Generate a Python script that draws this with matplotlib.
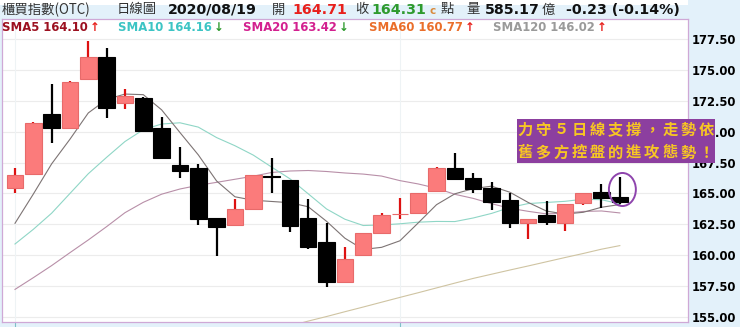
import matplotlib
matplotlib.use('Agg')
import matplotlib.pyplot as plt
from matplotlib.patches import Rectangle, Ellipse
import numpy as np

# 每日K線 (開, 高, 低, 收)
opens = [165.44, 166.55, 171.42, 170.28, 174.26, 176.04, 172.31, 172.76, 170.33, 167.31,
         167.04, 162.98, 162.44, 163.71, 166.38, 166.09, 162.98, 161.04, 157.84, 160.01,
         161.82, 163.31, 163.39, 165.22, 167.09, 166.23, 165.42, 164.47, 162.58, 163.25,
         162.58, 164.20, 165.14, 164.71]
highs = [167.06, 170.80, 173.87, 174.14, 177.36, 176.77, 173.45, 172.80, 171.17, 168.74,
         167.36, 163.00, 164.55, 166.52, 167.90, 166.10, 164.52, 162.58, 160.63, 161.80,
         163.39, 164.66, 165.05, 167.17, 168.25, 166.68, 165.95, 165.06, 162.95, 164.39,
         164.15, 165.06, 165.76, 166.36]
lows = [165.03, 166.55, 169.07, 170.28, 174.26, 171.09, 171.87, 169.96, 167.82, 166.29,
        162.44, 159.95, 162.42, 163.71, 165.01, 161.85, 160.47, 157.43, 157.71, 160.01,
        161.82, 162.92, 163.39, 165.22, 166.10, 165.06, 163.66, 162.17, 161.30, 162.44,
        161.98, 164.09, 163.79, 164.12]
closes = [166.49, 170.74, 170.33, 174.06, 176.04, 171.95, 172.90, 170.09, 167.90, 166.84,
          162.90, 162.30, 163.71, 166.50, 166.35, 162.38, 160.68, 157.79, 159.66, 161.77,
          163.25, 163.31, 165.01, 167.09, 166.17, 165.34, 164.33, 162.58, 162.93, 162.66,
          164.14, 165.06, 164.60, 164.31]

# 均線
sma5 = [162.58, 164.95, 167.40, 169.40, 171.53, 172.62, 173.06, 173.01, 171.78, 169.94,
        168.13, 166.01, 164.73, 164.45, 164.35, 164.25, 163.92, 162.74, 161.37, 160.46,
        160.63, 161.16, 162.61, 164.09, 164.97, 165.39, 165.59, 165.10, 164.27, 163.57,
        163.33, 163.47, 163.88, 164.10]
sma10 = [160.90, 162.09, 163.40, 165.00, 166.60, 167.93, 169.21, 170.17, 170.63, 170.73,
         170.38, 169.53, 168.87, 168.11, 167.14, 166.19, 164.97, 163.74, 162.91, 162.40,
         162.44, 162.54, 162.67, 162.73, 162.72, 163.01, 163.38, 163.86, 164.18, 164.27,
         164.36, 164.53, 164.49, 164.16]
sma20 = [157.22, 158.17, 159.15, 160.20, 161.23, 162.31, 163.44, 164.28, 164.94, 165.36,
         165.66, 165.90, 166.15, 166.40, 166.70, 166.82, 166.86, 166.78, 166.66, 166.57,
         166.41, 166.04, 165.77, 165.42, 164.93, 164.60, 164.17, 163.80, 163.55, 163.34,
         163.40, 163.54, 163.58, 163.42]
sma60 = [None] * 14 + [153.80, 154.25, 154.65, 155.02, 155.41, 155.79, 156.18, 156.57,
                       156.95, 157.34, 157.73, 158.11, 158.45, 158.79, 159.12, 159.46,
                       159.80, 160.13, 160.48, 160.77]

yticks = [155.0, 157.5, 160.0, 162.5, 165.0, 167.5, 170.0, 172.5, 175.0, 177.5]

W, H = 740, 327


def fx(px):
    return px / W


def fy(py):
    return 1 - py / H


fig = plt.figure(figsize=(W / 100, H / 100), dpi=100)
fig.patch.set_facecolor('white')

# 右邊與下方的淺藍底
fig.add_artist(Rectangle((fx(688), 0), 1 - fx(688), 1, transform=fig.transFigure,
                         facecolor='#e3f1fa', edgecolor='none', zorder=0))
fig.add_artist(Rectangle((0, 0), 1, 1 - fy(321.7), transform=fig.transFigure,
                         facecolor='#e3f1fa', edgecolor='none', zorder=0))

ax = fig.add_axes([fx(2), fy(321.7), fx(688) - fx(2), fy(18.7) - fy(321.7)])
ax.set_facecolor('white')
ax.set_xlim(-0.709, 36.72)
ax.set_ylim(154.60, 179.17)

x = np.arange(len(closes))

# 格線
for yt in yticks:
    ax.axhline(yt, color='#ececec', lw=0.8, zorder=0)
for xv in [0, 21]:
    ax.axvline(xv, color='#eef3f5', lw=0.8, zorder=0)

# 均線
xs60 = [i for i in x if sma60[i] is not None]
ax.plot(xs60, [sma60[i] for i in xs60], color='#cfc4a2', lw=0.8, zorder=1)
ax.plot(x, sma20, color='#b88fa8', lw=0.8, zorder=1)
ax.plot(x, sma10, color='#8fd6c6', lw=0.8, zorder=1)
ax.plot(x, sma5, color='#7d7474', lw=0.8, zorder=1)

# K線
for i in x:
    o, h, l, c = opens[i], highs[i], lows[i], closes[i]
    up = c >= o
    wick = '#dd1111' if up else 'black'
    face = '#fb7b7b' if up else 'black'
    edge = '#e86a6a' if up else 'black'
    ax.vlines(i, l, h, color=wick, lw=1.6, zorder=2)
    ax.bar(i, max(abs(c - o), 0.01), bottom=min(o, c), width=0.9,
           color=face, edgecolor=edge, lw=0.8, zorder=3)

# 圈出最後一根
ax.add_patch(Ellipse((33.14, 165.32), 1.47, 2.68, fill=False,
                     edgecolor='#8e44ad', lw=1.4, zorder=4))

# 軸
ax.yaxis.tick_right()
ax.set_yticks(yticks)
ax.set_yticklabels(['%.2f' % v for v in yticks], fontsize=8.4,
                   fontweight='bold', color='black')
ax.tick_params(axis='y', length=0, pad=3)
ax.set_xticks([0, 21])
ax.set_xticklabels([])
ax.tick_params(axis='x', length=5, direction='out', color='#7fc0c8', width=0.8)
for s in ax.spines.values():
    s.set_color('#cfa8d6')
    s.set_linewidth(0.9)

# 標題列
cjk = ['Noto Sans CJK TC', 'DejaVu Sans']
y1 = fy(9.5)
fig.text(fx(2), y1, '櫃買指數(OTC)', family=cjk, fontsize=9.6, color='#333333', va='center')
fig.text(fx(117), y1, '日線圖', family=cjk, fontsize=9.6, color='#333333', va='center')
fig.text(fx(168), y1, '2020/08/19', fontsize=10.2, fontweight='bold', color='#111111', va='center')
fig.text(fx(272), y1, '開', family=cjk, fontsize=9.6, color='#333333', va='center')
fig.text(fx(292), y1, '164.71', fontsize=10.2, fontweight='bold', color='#e8201c', va='center')
fig.text(fx(355), y1, '收', family=cjk, fontsize=9.6, color='#333333', va='center')
fig.text(fx(371), y1, '164.31', fontsize=10.2, fontweight='bold', color='#2e9a2e', va='center')
fig.text(fx(429), fy(11), 'c', fontsize=7.5, fontweight='bold', color='#d98a3d', va='center')
fig.text(fx(441), y1, '點', family=cjk, fontsize=9.6, color='#333333', va='center')
fig.text(fx(466), y1, '量', family=cjk, fontsize=9.6, color='#333333', va='center')
fig.text(fx(485), y1, '585.17', fontsize=10.2, fontweight='bold', color='#111111', va='center')
fig.text(fx(542), y1, '億', family=cjk, fontsize=9.6, color='#333333', va='center')
fig.text(fx(566), y1, '-0.23 (-0.14%)', fontsize=10.2, fontweight='bold', color='#111111', va='center')

# 均線圖例
y2 = fy(27.5)
legend = [
    (2, 'SMA5 164.10', '#9c1020', '↑', '#e8201c'),
    (118, 'SMA10 164.16', '#3cc4c4', '↓', '#2e9a2e'),
    (243, 'SMA20 163.42', '#d3208f', '↓', '#2e9a2e'),
    (369, 'SMA60 160.77', '#ea6e2a', '↑', '#e8201c'),
    (493, 'SMA120 146.02', '#9a9a9a', '↑', '#e8201c'),
]
for px, label, col, arrow, acol in legend:
    t = fig.text(fx(px), y2, label, fontsize=8.4, fontweight='bold', color=col, va='center')
    fig.canvas.draw()
    bb = t.get_window_extent()
    fig.text(bb.x1 / W + fx(2), y2, arrow, fontsize=8.4, fontweight='bold', color=acol, va='center')

# 註解框
fig.add_artist(Rectangle((fx(516.7), fy(163.3)), fx(715) - fx(516.7), fy(119.3) - fy(163.3),
                         transform=fig.transFigure, facecolor='#8c3f9f', edgecolor='none', zorder=5))
lines = ['力守５日線支撐，走勢依', '舊多方控盤的進攻態勢！']
for row, (line, py) in enumerate(zip(lines, [129.5, 152.5])):
    for j, ch in enumerate(line):
        fig.text(fx(525 + j * 18.1), fy(py), ch, family=cjk, fontsize=11, fontweight='bold',
                 color='#f7c623', ha='center', va='center', zorder=6)

fig.savefig('out.png', dpi=100, facecolor=fig.get_facecolor())
